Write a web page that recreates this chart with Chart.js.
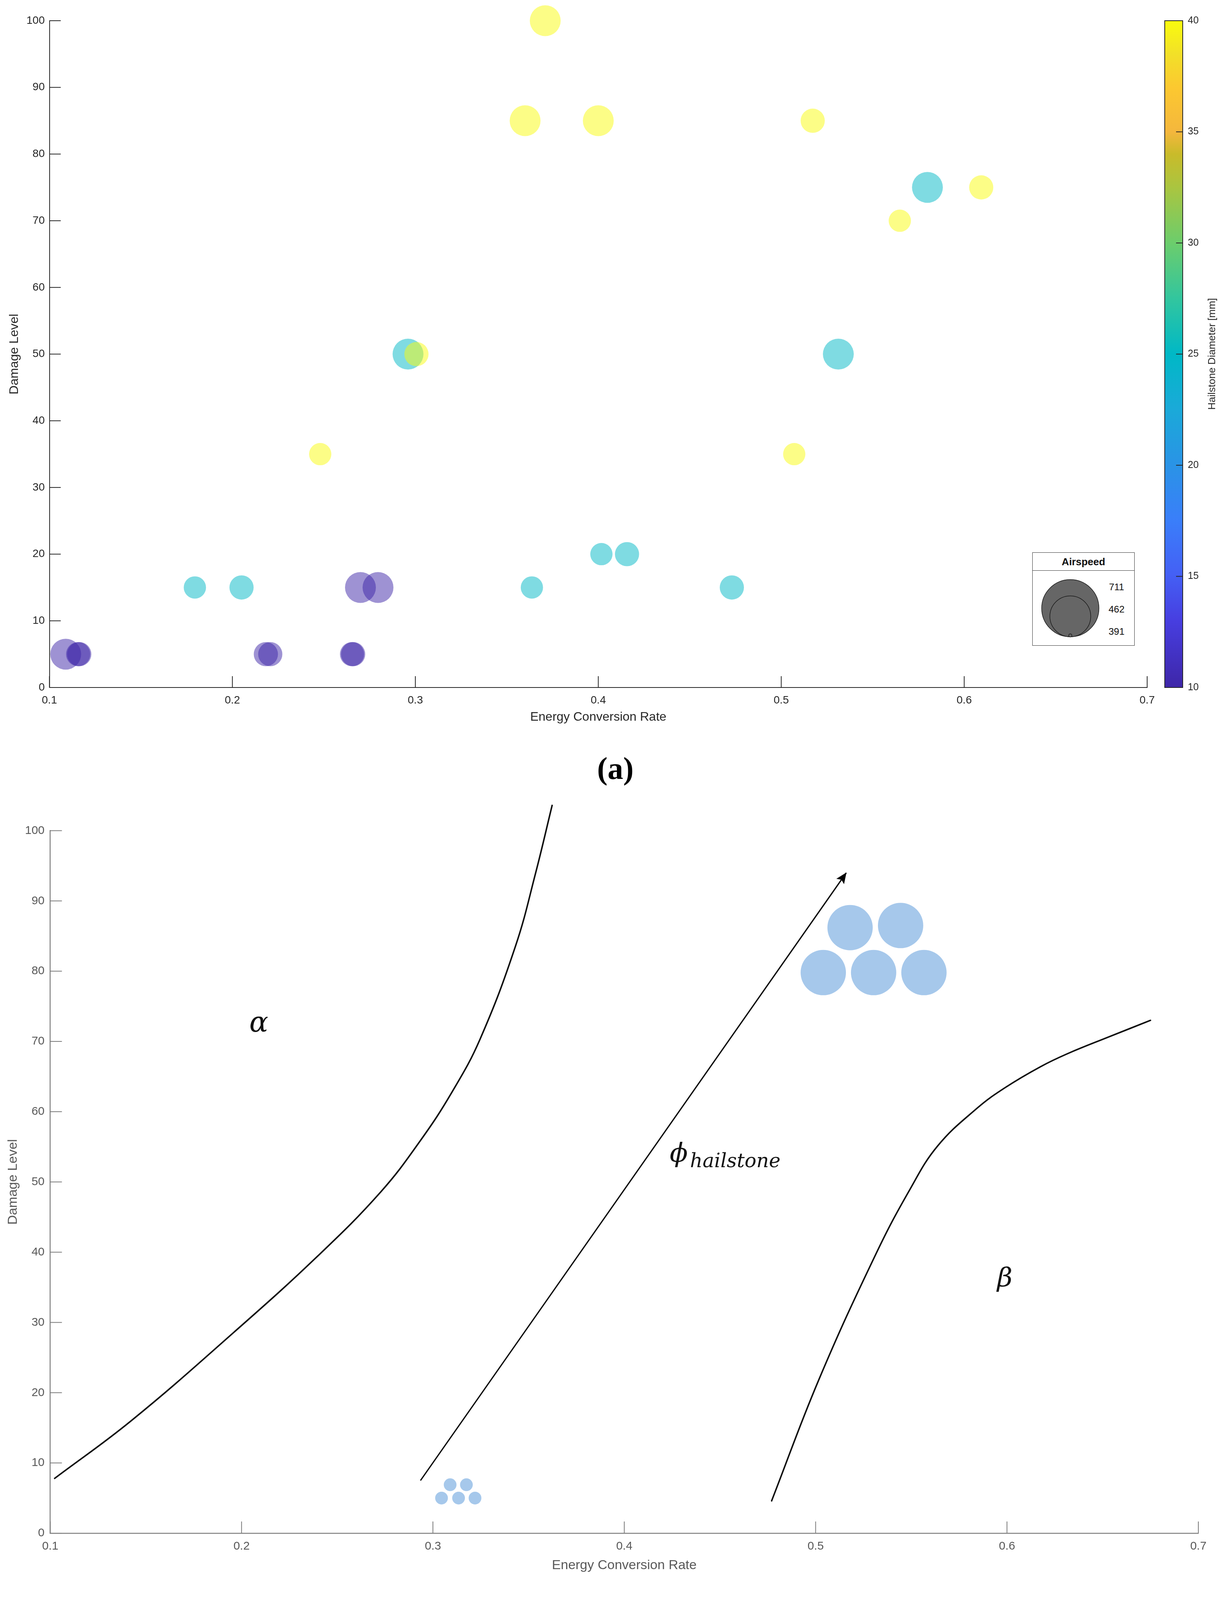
<!DOCTYPE html>
<html>
<head>
<meta charset="utf-8">
<script src="https://cdn.jsdelivr.net/npm/chart.js@4.4.1/dist/chart.umd.min.js"></script>
<style>
html,body{margin:0;padding:0;background:#fff;}
#page{position:relative;width:3125px;height:4255px;overflow:hidden;background:#fff;font-family:"Liberation Sans",Arial,sans-serif;}
canvas{position:absolute;}
#cA{left:0;top:0;z-index:1;}
#cB{left:2940px;top:0;z-index:2;}
#cC{left:0;top:2000px;z-index:1;}
.txt{position:absolute;z-index:5;white-space:nowrap;line-height:1;}
.cap{font-family:"Liberation Serif","Times New Roman",serif;font-weight:bold;font-size:80px;color:#000;transform:translate(-50%,-50%);}
.greek{font-family:"DejaVu Serif",serif;font-style:italic;color:#111;}
#cbTitle{font-size:26px;color:#262626;transform:translate(-50%,-50%) rotate(-90deg);}
#bleg{position:absolute;z-index:5;left:2642px;top:1414px;width:262px;height:239px;border:1.5px solid #333;box-sizing:border-box;background:#fff;}
#blegHead{position:absolute;left:0;top:0;width:100%;height:45px;border-bottom:1.5px solid #333;text-align:center;font-weight:bold;font-size:26px;line-height:47px;color:#111;}
#blegSvg{position:absolute;left:0;top:0;}
.blab{position:absolute;font-size:24.5px;color:#111;transform:translate(-50%,-50%);line-height:1;}
</style>
</head>
<body>
<div id="page">
  <canvas id="cA" width="3125" height="1900"></canvas>
  <canvas id="cB" width="185" height="1900"></canvas>
  <canvas id="cC" width="3125" height="2100"></canvas>

  <div id="cbTitle" class="txt" style="left:3101px;top:906px;">Hailstone Diameter [mm]</div>

  <div id="bleg">
    <svg id="blegSvg" width="262" height="239" xmlns="http://www.w3.org/2000/svg"></svg>
    <div id="blegHead">Airspeed</div>
  </div>

  <div class="txt cap" style="left:1575px;top:1967px;">(a)</div>
  <div class="txt cap" style="left:1575px;top:4179px;">(b)</div>

  <div class="txt greek" style="left:638px;top:2580px;font-size:72px;">α</div>
  <div class="txt greek" style="left:1714px;top:2917px;font-size:68px;">ϕ</div>
  <div class="txt greek" style="left:1766px;top:2946px;font-size:50px;">hailstone</div>
  <div class="txt greek" style="left:2552px;top:3236px;font-size:68px;">β</div>
</div>

<script>
// ================= DATA : chart (a) =================
const energyRate   = [0.371, 0.360, 0.400, 0.3006, 0.248, 0.5172, 0.6093, 0.5648, 0.5071,
                      0.296, 0.1795, 0.205, 0.3637, 0.4017, 0.4157, 0.5799, 0.5312, 0.473,
                      0.270, 0.2796, 0.1089, 0.1157, 0.1163, 0.2183, 0.2207, 0.2654, 0.2660];
const damageLevel  = [100, 85, 85, 50, 35, 85, 75, 70, 35,
                      50, 15, 15, 15, 20, 20, 75, 50, 15,
                      15, 15, 5, 5, 5, 5, 5, 5, 5];
const hailDiameter = [40, 40, 40, 40, 40, 40, 40, 40, 40,
                      25, 25, 25, 25, 25, 25, 25, 25, 25,
                      10, 10, 10, 10, 10, 10, 10, 10, 10];
const airspeed     = [711, 711, 711, 462, 391, 462, 462, 391, 391,
                      711, 391, 462, 391, 391, 462, 711, 711, 462,
                      711, 711, 711, 462, 462, 462, 462, 462, 462];
const airspeedLegend = [711, 462, 391];
const colorbarRange  = [10, 40];

// ================= DATA : chart (b) =================
const alphaX = [0.1023, 0.1423, 0.196, 0.2396, 0.2728, 0.2935, 0.31, 0.3246, 0.3432, 0.3536, 0.3623];
const alphaY = [7.8, 16.0, 28.6, 39.4, 48.6, 55.9, 62.8, 70.3, 83.6, 93.9, 103.6];
const phiX   = [0.2935, 0.516];
const phiY   = [7.5, 94.0];
const betaX  = [0.477, 0.5016, 0.5316, 0.549, 0.5637, 0.5844, 0.5989, 0.6175, 0.632, 0.6528, 0.675];
const betaY  = [4.6, 21.8, 39.8, 48.8, 55.1, 60.5, 63.4, 66.4, 68.3, 70.6, 73.0];
const glyphX = [0.518, 0.5444, 0.504, 0.5303, 0.5566, 0.309, 0.3175, 0.3045, 0.3134, 0.322];
const glyphY = [86.2, 86.5, 79.8, 79.8, 79.8, 6.9, 6.9, 5.0, 5.0, 5.0];
const glyphGroup = ['large','large','large','large','large','small','small','small','small','small'];

// ================= STYLE =================
const parulaStops = [
  [0.00,[62,38,168]],[0.10,[71,62,224]],[0.17,[68,96,245]],[0.25,[58,126,250]],
  [0.333,[42,147,230]],[0.42,[26,170,216]],[0.50,[0,184,198]],[0.58,[48,197,160]],
  [0.667,[108,205,108]],[0.75,[170,197,64]],[0.80,[201,187,42]],[0.833,[244,183,61]],
  [0.90,[252,200,48]],[0.95,[242,224,40]],[1.00,[249,251,14]]
];
function parula(v){
  const t = Math.max(0, Math.min(1, (v - colorbarRange[0]) / (colorbarRange[1] - colorbarRange[0])));
  for (let i = 1; i < parulaStops.length; i++){
    const [t1,c1] = parulaStops[i-1], [t2,c2] = parulaStops[i];
    if (t <= t2){
      const f = (t - t1) / (t2 - t1);
      return c1.map((c,k) => Math.round(c + (c2[k]-c)*f));
    }
  }
  return parulaStops[parulaStops.length-1][1];
}
const rgba = (c,a) => `rgba(${c[0]},${c[1]},${c[2]},${a})`;
const aMin = 391, aMax = 711, rMin = 28.5, rMax = 39.5;
const radiusFor = a => rMin + (a - aMin) / (aMax - aMin) * (rMax - rMin);
const glyphRadius = {large: 58, small: 16.3};

const innerTicks = {
  id: 'innerTicks',
  afterDatasetsDraw(chart, args, o){
    const {ctx, chartArea: ca} = chart;
    const xs = chart.scales.x, ys = chart.scales.y;
    ctx.save();
    ctx.strokeStyle = o.color; ctx.lineWidth = o.width;
    xs.ticks.forEach(t => { const p = xs.getPixelForValue(t.value);
      ctx.beginPath(); ctx.moveTo(p, ca.bottom); ctx.lineTo(p, ca.bottom - o.len); ctx.stroke(); });
    ys.ticks.forEach(t => { const p = ys.getPixelForValue(t.value);
      ctx.beginPath(); ctx.moveTo(ca.left, p); ctx.lineTo(ca.left + o.len, p); ctx.stroke(); });
    ctx.restore();
  }
};

const fmt1 = v => (Math.round(v * 10) / 10).toString();

// ================= CHART (a) =================
const diamGroups = [...new Set(hailDiameter)].sort((a,b) => b - a);
const dsA = diamGroups.map(d => {
  const idx = hailDiameter.map((v,i) => v === d ? i : -1).filter(i => i >= 0);
  return {
    label: d + ' mm',
    data: idx.map(i => ({x: energyRate[i], y: damageLevel[i], r: radiusFor(airspeed[i])})),
    backgroundColor: rgba(parula(d), 0.5),
    borderWidth: 0,
    clip: false
  };
});

const tickColA = '#262626';
new Chart(document.getElementById('cA'), {
  type: 'bubble',
  data: {datasets: dsA},
  options: {
    responsive: false, animation: false, events: [],
    layout: {padding: {left: 0, top: 53, right: 189, bottom: 0}},
    plugins: {legend: {display: false}, tooltip: {enabled: false},
      innerTicks: {color: '#262626', width: 2, len: 29}},
    scales: {
      x: {type: 'linear', min: 0.1, max: 0.7,
        ticks: {stepSize: 0.1, padding: 16, color: tickColA, font: {family: 'Liberation Sans', size: 28}, callback: fmt1},
        grid: {display: false, drawTicks: false},
        border: {display: true, color: '#262626', width: 2},
        title: {display: true, text: 'Energy Conversion Rate', color: tickColA,
          font: {family: 'Liberation Sans', size: 32}, padding: {top: 0, bottom: 45}},
        afterFit: s => { s.height = 140; }
      },
      y: {type: 'linear', min: 0, max: 100,
        ticks: {stepSize: 10, padding: 12, color: tickColA, font: {family: 'Liberation Sans', size: 28}},
        grid: {display: false, drawTicks: false},
        border: {display: true, color: '#262626', width: 2},
        title: {display: true, text: 'Damage Level', color: tickColA,
          font: {family: 'Liberation Sans', size: 32}, padding: {top: 18, bottom: 0}},
        afterFit: s => { s.width = 126.5; }
      }
    }
  },
  plugins: [innerTicks]
});

// ================= COLORBAR =================
const cbFrame = {
  id: 'cbFrame',
  afterDatasetsDraw(chart){
    const {ctx, chartArea: ca} = chart;
    const ys = chart.scales.y;
    ctx.save();
    ctx.strokeStyle = '#262626'; ctx.lineWidth = 2;
    ctx.strokeRect(ca.left, ca.top, ca.right - ca.left, ca.bottom - ca.top);
    ys.ticks.forEach(t => { const p = ys.getPixelForValue(t.value);
      ctx.beginPath(); ctx.moveTo(ca.right, p); ctx.lineTo(ca.right - 17, p); ctx.stroke(); });
    ctx.restore();
  }
};
new Chart(document.getElementById('cB'), {
  type: 'bar',
  data: {labels: [''], datasets: [{
    data: [colorbarRange],
    backgroundColor: (c) => {
      const ch = c.chart, ca = ch.chartArea;
      if (!ca) return '#888';
      const g = ch.ctx.createLinearGradient(0, ca.bottom, 0, ca.top);
      parulaStops.forEach(([t, col]) => g.addColorStop(t, rgba(col, 1)));
      return g;
    },
    borderWidth: 0, barPercentage: 1, categoryPercentage: 1
  }]},
  options: {
    responsive: false, animation: false, events: [],
    layout: {padding: {left: 41, top: 53, right: 0, bottom: 140}},
    plugins: {legend: {display: false}, tooltip: {enabled: false}},
    scales: {
      x: {display: false},
      y: {position: 'right', min: colorbarRange[0], max: colorbarRange[1],
        ticks: {stepSize: 5, padding: 13, color: '#262626', font: {family: 'Liberation Sans', size: 25}},
        grid: {display: false, drawTicks: false},
        border: {display: false},
        afterFit: s => { s.width = 98; }
      }
    }
  },
  plugins: [cbFrame]
});

// ================= BUBBLE-SIZE LEGEND =================
(function(){
  const svg = document.getElementById('blegSvg');
  const rs = [73.3, 52.3, 4];           // legend glyph radii
  const cy = [142, 162.7, 211.7];
  const ly = [87.7, 145, 201.7];
  airspeedLegend.forEach((a, i) => {
    const c = document.createElementNS('http://www.w3.org/2000/svg', 'circle');
    c.setAttribute('cx', 96.3); c.setAttribute('cy', cy[i]); c.setAttribute('r', rs[i]);
    c.setAttribute('fill', '#666666'); c.setAttribute('stroke', '#1a1a1a'); c.setAttribute('stroke-width', '1.5');
    svg.appendChild(c);
    const d = document.createElement('div');
    d.className = 'blab'; d.textContent = String(a);
    d.style.left = '214.7px'; d.style.top = ly[i] + 'px';
    document.getElementById('bleg').appendChild(d);
  });
})();

// ================= CHART (b) =================
const arrowHead = {
  id: 'arrowHead',
  afterDatasetsDraw(chart, args, o){
    const meta = chart.getDatasetMeta(o.datasetIndex);
    const pts = meta.data, n = pts.length;
    const a = pts[n-2], b = pts[n-1];
    const ang = Math.atan2(b.y - a.y, b.x - a.x);
    const ctx = chart.ctx;
    ctx.save();
    ctx.translate(b.x, b.y); ctx.rotate(ang);
    ctx.fillStyle = '#000';
    ctx.beginPath(); ctx.moveTo(1, 0); ctx.lineTo(-o.len, -o.half); ctx.lineTo(-o.len * 0.8, 0); ctx.lineTo(-o.len, o.half); ctx.closePath(); ctx.fill();
    ctx.restore();
  }
};
const toXY = (xs, ys) => xs.map((x, i) => ({x, y: ys[i]}));
const lineStyle = {type: 'scatter', showLine: true, borderColor: '#0d0d0d', borderWidth: 3.8,
  pointRadius: 0, fill: false, clip: false, cubicInterpolationMode: 'default', tension: 0.4,
  borderJoinStyle: 'round', borderCapStyle: 'round'};
const tickColB = '#595959';
new Chart(document.getElementById('cC'), {
  type: 'scatter',
  data: {datasets: [
    Object.assign({label: 'alpha', data: toXY(alphaX, alphaY)}, lineStyle),
    Object.assign({label: 'phi', data: toXY(phiX, phiY)}, lineStyle, {tension: 0, borderWidth: 3.4, borderCapStyle: 'butt'}),
    Object.assign({label: 'beta', data: toXY(betaX, betaY)}, lineStyle),
    {type: 'bubble', label: 'hailstones',
      data: glyphX.map((x, i) => ({x, y: glyphY[i], r: glyphRadius[glyphGroup[i]]})),
      backgroundColor: '#a6c8eb', borderWidth: 0, clip: false}
  ]},
  options: {
    responsive: false, animation: false, events: [],
    layout: {padding: {left: 0, top: 126.5, right: 41, bottom: 0}},
    plugins: {legend: {display: false}, tooltip: {enabled: false},
      innerTicks: {color: '#7a7a7a', width: 2, len: 30},
      arrowHead: {datasetIndex: 1, len: 27, half: 12}},
    scales: {
      x: {type: 'linear', min: 0.1, max: 0.7,
        ticks: {stepSize: 0.1, padding: 16, color: tickColB, font: {family: 'Liberation Sans', size: 30}, callback: fmt1},
        grid: {display: false, drawTicks: false},
        border: {display: true, color: '#808080', width: 2.5},
        title: {display: true, text: 'Energy Conversion Rate', color: tickColB,
          font: {family: 'Liberation Sans', size: 34}, padding: {top: 0, bottom: 72}},
        afterFit: s => { s.height = 175; }
      },
      y: {type: 'linear', min: 0, max: 100,
        ticks: {stepSize: 10, padding: 14.5, color: tickColB, font: {family: 'Liberation Sans', size: 30}},
        grid: {display: false, drawTicks: false},
        border: {display: true, color: '#808080', width: 2.5},
        title: {display: true, text: 'Damage Level', color: tickColB,
          font: {family: 'Liberation Sans', size: 34}, padding: {top: 13.5, bottom: 0}},
        afterFit: s => { s.width = 128.5; }
      }
    }
  },
  plugins: [innerTicks, arrowHead]
});
</script>
</body>
</html>
